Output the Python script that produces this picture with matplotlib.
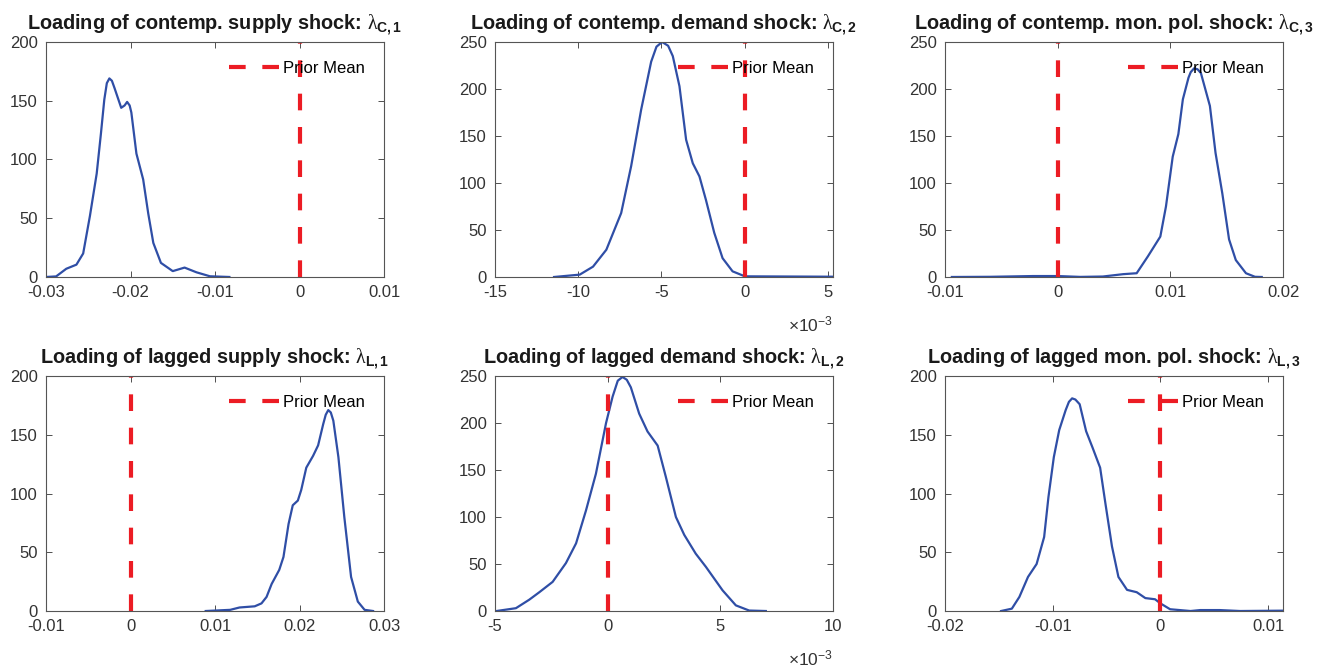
import numpy as np
import matplotlib
matplotlib.use("Agg")
from matplotlib import pyplot as plt
from matplotlib.ticker import FuncFormatter

plt.rcParams["font.family"] = ["Liberation Sans", "DejaVu Sans"]
plt.rcParams["axes.unicode_minus"] = False
plt.rcParams["mathtext.fontset"] = "custom"
plt.rcParams["mathtext.rm"] = "Liberation Sans"
plt.rcParams["mathtext.bf"] = "Liberation Sans:bold"
plt.rcParams["mathtext.it"] = "Liberation Serif"

# posterior density of each loading
x_c1 = [-0.0300, -0.0288, -0.0276, -0.0264, -0.0256, -0.0248, -0.0240, -0.0235, -0.0231, -0.0228,
        -0.0225, -0.0222, -0.0219, -0.0211, -0.0207, -0.0204, -0.0201, -0.0199, -0.0193, -0.0185,
        -0.0179, -0.0173, -0.0164, -0.0150, -0.0136, -0.0122, -0.0106, -0.0083]
y_c1 = [0, 0.5, 7, 10.5, 20, 52, 88, 122, 151, 165,
        169, 167, 161, 144, 146, 149, 146, 140, 105, 83,
        54, 29, 12, 5, 8, 4, 0.6, 0]

# this one and x_l2 are in units of 1e-3
x_c2 = [-11.45, -9.91, -9.11, -8.31, -7.42, -6.82, -6.22, -5.62, -5.3, -4.96,
        -4.6, -4.32, -3.92, -3.52, -3.12, -2.72, -2.33, -1.83, -1.33, -0.73,
        0.01, 5.3]
y_c2 = [0, 2.5, 11, 29, 68, 118, 178, 229, 245, 250,
        246, 235, 203, 146, 121, 107, 82, 47, 20, 6,
        0.7, 0.3]

x_c3 = [-0.0094, -0.0060, -0.0022, 0.0, 0.0020, 0.0040, 0.0058, 0.0070, 0.0080, 0.0091,
        0.0096, 0.0102, 0.0107, 0.0111, 0.0116, 0.0118, 0.0121, 0.0124, 0.0127, 0.0135,
        0.0140, 0.0146, 0.0152, 0.0158, 0.0167, 0.0175, 0.0181]
y_c3 = [0, 0.2, 1, 1, 0.1, 0.5, 3, 4, 22, 43,
        75, 128, 152, 189, 212, 218, 222, 221, 217, 182,
        132, 89, 40, 18, 4, 0.2, 0]

x_l1 = [0.0089, 0.0118, 0.0129, 0.0147, 0.0155, 0.0161, 0.0167, 0.0176, 0.0181, 0.0187,
        0.0192, 0.0198, 0.0202, 0.0208, 0.0216, 0.0222, 0.0228, 0.0231, 0.0234, 0.0237,
        0.0240, 0.0246, 0.0253, 0.0261, 0.0269, 0.0277, 0.0287]
y_l1 = [0, 1, 3, 4, 6.5, 12, 23, 35, 46, 74,
        90, 94, 103, 122, 132, 141, 159, 167, 171, 169,
        162, 131, 80, 29, 8, 1, 0]

x_l2 = [-4.93, -4.07, -3.48, -3.03, -2.44, -1.85, -1.40, -0.96, -0.52, -0.07,
        0.22, 0.45, 0.66, 0.85, 1.03, 1.40, 1.77, 2.22, 2.58, 3.03,
        3.40, 3.91, 4.36, 5.10, 5.69, 6.28, 7.02]
y_l2 = [0, 3, 12, 20, 31, 51, 72, 107, 146, 200,
        228, 245, 249, 246, 238, 210, 191, 176, 143, 100,
        81, 61, 47, 22, 6, 0.5, 0]

x_l3 = [-0.0148, -0.0138, -0.0131, -0.0123, -0.0115, -0.0108, -0.0104, -0.0099, -0.0094, -0.0088,
        -0.0085, -0.0082, -0.0079, -0.0075, -0.0069, -0.0063, -0.0056, -0.0051, -0.0045, -0.0039,
        -0.0031, -0.0022, -0.0014, -0.0005, 0.0, 0.0009, 0.0028, 0.0037, 0.0055, 0.0074,
        0.0114]
y_l3 = [0, 2, 12, 29, 40, 63, 97, 131, 154, 171,
        178, 181, 180, 176, 153, 139, 122, 91, 55, 29,
        18, 16, 11, 10, 6.5, 1.5, 0, 0.8, 0.8, 0,
        0.3]

titles = [
    r"Loading of contemp. supply shock: $\lambda_{\mathbf{C,1}}$",
    r"Loading of contemp. demand shock: $\lambda_{\mathbf{C,2}}$",
    r"Loading of contemp. mon. pol. shock: $\lambda_{\mathbf{C,3}}$",
    r"Loading of lagged supply shock: $\lambda_{\mathbf{L,1}}$",
    r"Loading of lagged demand shock: $\lambda_{\mathbf{L,2}}$",
    r"Loading of lagged mon. pol. shock: $\lambda_{\mathbf{L,3}}$",
]
xs = [x_c1, np.array(x_c2) * 1e-3, x_c3, x_l1, np.array(x_l2) * 1e-3, x_l3]
ys = [y_c1, y_c2, y_c3, y_l1, y_l2, y_l3]
xlims = [(-0.03, 0.01), (-0.015, 0.0053), (-0.01, 0.02), (-0.01, 0.03), (-0.005, 0.01), (-0.02, 0.0114)]
xticks = [[-0.03, -0.02, -0.01, 0, 0.01], [-0.015, -0.01, -0.005, 0, 0.005], [-0.01, 0, 0.01, 0.02],
          [-0.01, 0, 0.01, 0.02, 0.03], [-0.005, 0, 0.005, 0.01], [-0.02, -0.01, 0, 0.01]]
ymaxs = [200, 250, 250, 200, 250, 200]
sci = [False, True, False, False, True, False]

blue = "#2f4ea6"
red = "#ec1c24"
dark = "#333333"

fig = plt.figure(figsize=(13.33, 6.71), dpi=100)
lefts = [0.0345, 0.3713, 0.709]
bottoms = [0.5872, 0.0894]
w, h = 0.2536, 0.3502

for i in range(6):
    ax = fig.add_axes([lefts[i % 3], bottoms[i // 3], w, h])
    ax.plot(xs[i], ys[i], color=blue, lw=1.6)
    ax.plot([0, 0], [0, ymaxs[i]], color=red, lw=3, dashes=(4, 4), label="Prior Mean")
    ax.set_xlim(xlims[i])
    ax.set_ylim(0, ymaxs[i])
    ax.set_xticks(xticks[i])
    ax.set_yticks(np.arange(0, ymaxs[i] + 1, 50))
    if sci[i]:
        ax.xaxis.set_major_formatter(FuncFormatter(lambda v, p: "%g" % round(v * 1e3, 6)))
        ax.text(1.0, -0.2, r"$\times\mathregular{10^{-3}}$", transform=ax.transAxes,
                ha="right", va="center", fontsize=12.5, color=dark)
    else:
        ax.set_xticklabels([("%g" % t) for t in xticks[i]])
    ax.tick_params(direction="in", top=True, right=True, length=4, width=0.6,
                   labelsize=12, colors=dark, pad=6)
    for s in ax.spines.values():
        s.set_color("#555555")
        s.set_linewidth(0.8)
    ax.set_title(titles[i], fontsize=14.3, fontweight="bold", color="#1a1a1a", pad=9)
    ax.legend(loc="center right", bbox_to_anchor=(0.944, 0.889), frameon=False, fontsize=12,
              handlelength=3.0, handletextpad=0.25, borderaxespad=0, borderpad=0)

fig.savefig("out.png", dpi=100)
